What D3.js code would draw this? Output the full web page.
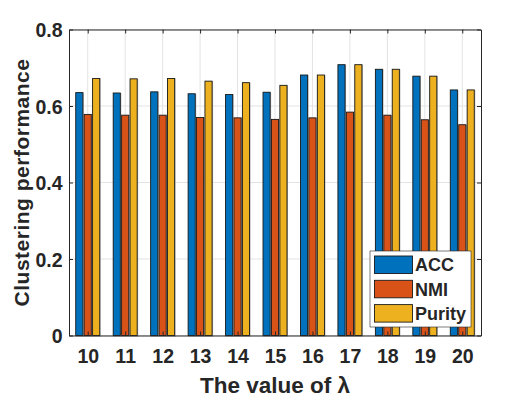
<!DOCTYPE html>
<html>
<head>
<meta charset="utf-8">
<script src="https://cdn.jsdelivr.net/npm/d3@7"></script>
<style>
  body { margin: 0; background: #fff; }
  text { font-family: "Liberation Sans", Arial, sans-serif; font-weight: bold; fill: #262626; }
</style>
</head>
<body>
<div id="chart"></div>
<script>
const lambdas = [10, 11, 12, 13, 14, 15, 16, 17, 18, 19, 20];
const acc    = [0.635, 0.634, 0.637, 0.632, 0.630, 0.636, 0.681, 0.708, 0.696, 0.678, 0.642];
const nmi    = [0.578, 0.576, 0.576, 0.570, 0.569, 0.565, 0.569, 0.584, 0.576, 0.564, 0.551];
const purity = [0.672, 0.671, 0.672, 0.665, 0.661, 0.654, 0.681, 0.708, 0.696, 0.678, 0.642];
const seriesNames = ["ACC", "NMI", "Purity"];
const yTicks = [0, 0.2, 0.4, 0.6, 0.8];

const width = 532, height = 399;
const margin = { left: 69, right: 51, top: 29.5, bottom: 63.5 };
const color = d3.scaleOrdinal(seriesNames, ["#0072BD", "#D95319", "#EDB120"]);
const series = [acc, nmi, purity];

const svg = d3.create("svg")
    .attr("width", width)
    .attr("height", height);

const x = d3.scaleLinear().domain([9.5, 20.5]).range([margin.left, width - margin.right]);
const y = d3.scaleLinear().domain([0, 0.8]).range([height - margin.bottom, margin.top]);

const x0 = x.range()[0], x1 = x.range()[1], y0 = y.range()[0], y1 = y.range()[1];

// Grid
const grid = svg.append("g").attr("stroke", "#e3e3e3").attr("stroke-width", 1);
grid.selectAll(".vg").data(lambdas).enter().append("line")
    .attr("x1", d => x(d)).attr("x2", d => x(d))
    .attr("y1", y1).attr("y2", y0);
grid.selectAll(".hg").data(yTicks).enter().append("line")
    .attr("x1", x0).attr("x2", x1)
    .attr("y1", d => y(d)).attr("y2", d => y(d));

// Bars
const offsets = [-0.225, 0, 0.225];
const barW = x(0.19) - x(0);
series.forEach((vals, si) => {
    const g = svg.append("g").attr("class", "series");
    // faint shadow edge
    g.selectAll("rect.sh").data(vals).enter().append("rect")
        .attr("x", (d, i) => x(lambdas[i] + offsets[si]) - barW / 2 + 0.5)
        .attr("y", d => y(d) + 0.5)
        .attr("width", barW)
        .attr("height", d => y(0) - y(d))
        .attr("fill", "none")
        .attr("stroke", "#aaa")
        .attr("stroke-width", 1);
    g.selectAll("rect.bar").data(vals).enter().append("rect")
        .attr("x", (d, i) => x(lambdas[i] + offsets[si]) - barW / 2)
        .attr("y", d => y(d))
        .attr("width", barW)
        .attr("height", d => y(0) - y(d))
        .attr("fill", color(seriesNames[si]))
        .attr("stroke", "#1a1a1a")
        .attr("stroke-width", 0.9);
});

// Axes (box with inward ticks)
const axisColor = "#262626";
const xAxis = svg.append("g")
    .attr("transform", `translate(0,${y0})`)
    .call(d3.axisBottom(x).tickValues(lambdas).tickSizeInner(-4).tickSizeOuter(0).tickPadding(14).tickFormat(d3.format("d")));
const xTop = svg.append("g")
    .attr("transform", `translate(0,${y1})`)
    .call(d3.axisTop(x).tickValues(lambdas).tickSizeInner(-4).tickSizeOuter(0).tickFormat(""));
const yAxis = svg.append("g")
    .attr("transform", `translate(${x0},0)`)
    .call(d3.axisLeft(y).tickValues(yTicks).tickSizeInner(-4).tickSizeOuter(0).tickPadding(6.5).tickFormat(d => d === 0 ? "0" : d3.format(".1f")(d)));
const yRight = svg.append("g")
    .attr("transform", `translate(${x1},0)`)
    .call(d3.axisRight(y).tickValues(yTicks).tickSizeInner(-4).tickSizeOuter(0).tickFormat(""));

[xAxis, xTop, yAxis, yRight].forEach(a => {
    a.selectAll("path").attr("stroke", axisColor).attr("stroke-width", 1);
    a.selectAll("line").attr("stroke", axisColor).attr("stroke-width", 1);
    a.selectAll("text").attr("fill", axisColor)
        .style("font-family", "'Liberation Sans', Arial, sans-serif")
        .style("font-weight", "bold")
        .style("font-size", "19.5px");
});
yAxis.selectAll("text").attr("dy", "0.36em");

// Axis labels
svg.append("text")
    .attr("x", (x0 + x1) / 2)
    .attr("y", 393)
    .attr("text-anchor", "middle")
    .style("font-size", "22.5px")
    .text("The value of λ");

svg.append("text")
    .attr("transform", `translate(28.5,${(y0 + y1) / 2}) rotate(-90)`)
    .attr("text-anchor", "middle")
    .style("font-size", "21px")
    .style("letter-spacing", "0.5px")
    .text("Clustering performance");

// Legend
const legend = svg.append("g").attr("transform", "translate(370,251)");
legend.append("rect")
    .attr("width", 101).attr("height", 76)
    .attr("fill", "#fff")
    .attr("stroke", "#262626").attr("stroke-width", 0.6);
seriesNames.forEach((name, i) => {
    legend.append("rect")
        .attr("x", 4.5).attr("y", 5 + i * 24.3)
        .attr("width", 38).attr("height", 17.5)
        .attr("fill", color(name))
        .attr("stroke", "#1a1a1a").attr("stroke-width", 0.9);
    legend.append("text")
        .attr("x", 45).attr("y", 14 + i * 24.3)
        .attr("dy", "0.36em")
        .style("font-size", "18px")
        .attr("fill", "#000")
        .text(name);
});

document.getElementById("chart").appendChild(svg.node());
</script>
</body>
</html>
